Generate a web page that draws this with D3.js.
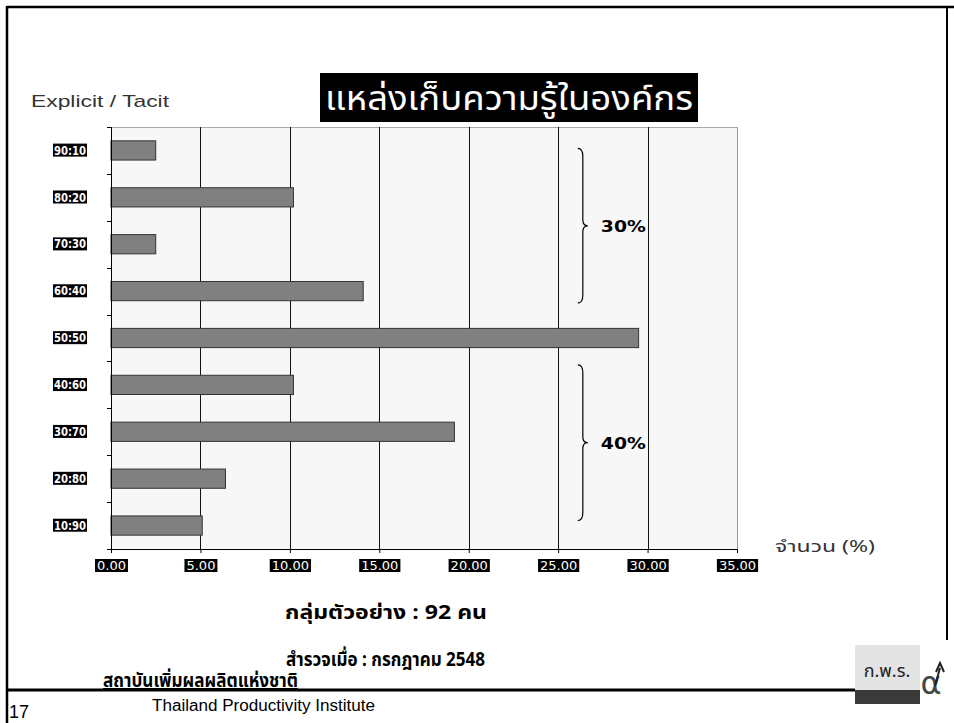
<!DOCTYPE html>
<html>
<head>
<meta charset="utf-8">
<script src="https://cdn.jsdelivr.net/npm/d3@7/dist/d3.min.js"></script>
<style>
  html, body { margin: 0; padding: 0; background: #fff; }
  svg { display: block; }
  .ylab text { font: bold 13px "DejaVu Sans", Verdana, sans-serif; fill: #fff; }
  .xlab text { font: 13px "DejaVu Sans", Verdana, sans-serif; fill: #fff; }
  .thai { font-family: Tahoma, "Noto Sans Thai", "DejaVu Sans", "Liberation Sans", sans-serif; }
</style>
</head>
<body>
<svg id="chart" width="954" height="723"></svg>
<script>
// ratio Explicit:Tacit, top to bottom
const categories = ['90:10', '80:20', '70:30', '60:40', '50:50', '40:60', '30:70', '20:80', '10:90'];
// percent of respondents (n = 92)
const values = [2.5, 10.2, 2.5, 14.1, 29.5, 10.2, 19.2, 6.4, 5.1];
const xTicks = [0, 5, 10, 15, 20, 25, 30, 35];
// bracket groups
const groups = [
  { label: '30%', from: '90:10', to: '60:40' },
  { label: '40%', from: '40:60', to: '10:90' }
];

const titleText = 'แหล่งเก็บความรู้ในองค์กร';
const yTitle = 'Explicit / Tacit';
const xTitle = 'จำนวน (%)';
const noteSample = 'กลุ่มตัวอย่าง : 92 คน';
const noteDate = 'สำรวจเมื่อ : กรกฎาคม 2548';

const svg = d3.select('#chart');
const plot = { left: 111, right: 737, top: 127, bottom: 549 };

const x = d3.scaleLinear().domain([0, 35]).range([plot.left, plot.right]);
const y = d3.scaleBand().domain(categories).range([plot.top, plot.bottom])
  .paddingInner(0.59).paddingOuter(0.295);

// slide frame
svg.append('line').attr('x1', 7).attr('x2', 954).attr('y1', 7).attr('y2', 7)
  .attr('stroke', '#000').attr('stroke-width', 2.5);
svg.append('line').attr('x1', 7).attr('x2', 7).attr('y1', 6).attr('y2', 723)
  .attr('stroke', '#000').attr('stroke-width', 2.5);
svg.append('line').attr('x1', 947).attr('x2', 947).attr('y1', 6).attr('y2', 640)
  .attr('stroke', '#000').attr('stroke-width', 2);
svg.append('line').attr('x1', 7).attr('x2', 856).attr('y1', 690).attr('y2', 690)
  .attr('stroke', '#000').attr('stroke-width', 3);

// plot background and frame
svg.append('rect')
  .attr('x', plot.left).attr('y', plot.top)
  .attr('width', plot.right - plot.left).attr('height', plot.bottom - plot.top)
  .attr('fill', '#f7f7f7');
svg.append('line').attr('x1', plot.left).attr('x2', plot.right)
  .attr('y1', plot.top + 0.5).attr('y2', plot.top + 0.5).attr('stroke', '#aaa');

// vertical grid
svg.append('g').selectAll('line').data(xTicks.slice(1))
  .join('line')
  .attr('x1', d => Math.round(x(d)) + 0.5).attr('x2', d => Math.round(x(d)) + 0.5)
  .attr('y1', plot.top).attr('y2', plot.bottom)
  .attr('stroke', d => d === 35 ? '#999' : '#111').attr('stroke-width', 1);

// bars
svg.append('g').selectAll('rect').data(values)
  .join('rect')
  .attr('x', x(0))
  .attr('y', (d, i) => y(categories[i]))
  .attr('width', d => x(d) - x(0))
  .attr('height', y.bandwidth())
  .attr('fill', '#808080')
  .attr('stroke', '#333').attr('stroke-width', 1);

// x axis
const xAxis = d3.axisBottom(x).tickValues(xTicks).tickSize(4).tickFormat(d3.format('.2f'));
const xg = svg.append('g').attr('class', 'xlab')
  .attr('transform', `translate(0,${plot.bottom})`).call(xAxis);
xg.select('.domain').attr('d', `M${plot.left - 4},0.5H${plot.right}`).attr('stroke', '#000');
xg.selectAll('.tick line').attr('stroke', '#000');
xg.selectAll('.tick text').attr('dy', null).attr('y', 21);

// y axis: line + ticks at category boundaries
const bounds = d3.range(categories.length + 1).map(i => plot.top + i * (plot.bottom - plot.top) / categories.length);
svg.append('line').attr('x1', plot.left + 0.5).attr('x2', plot.left + 0.5)
  .attr('y1', plot.top).attr('y2', plot.bottom).attr('stroke', '#000');
svg.append('g').selectAll('line').data(bounds)
  .join('line')
  .attr('x1', plot.left - 4).attr('x2', plot.left)
  .attr('y1', d => Math.round(d) + 0.5).attr('y2', d => Math.round(d) + 0.5)
  .attr('stroke', '#000');

const yAxis = d3.axisLeft(y).tickSize(0).tickPadding(25);
const yg = svg.append('g').attr('class', 'ylab')
  .attr('transform', `translate(${plot.left},0)`).call(yAxis);
yg.select('.domain').remove();
yg.selectAll('.tick text')
  .attr('textLength', 32).attr('lengthAdjust', 'spacingAndGlyphs');

// black boxes behind tick labels
function boxLabels(g, padX, padY) {
  g.selectAll('.tick').each(function() {
    const t = d3.select(this).select('text');
    const b = t.node().getBBox();
    d3.select(this).insert('rect', 'text')
      .attr('x', b.x - padX).attr('y', b.y - padY)
      .attr('width', b.width + padX * 2).attr('height', b.height + padY * 2)
      .attr('fill', '#000');
  });
}
boxLabels(yg, 1, -1);
boxLabels(xg, 2, -1);

// brackets
const bx = x(26.1);
const half = y.bandwidth() / 2;
const braceInset = [[-2, 12], [-20, -5]];
function brace(x0, y0, y1, w) {
  const m = (y0 + y1) / 2;
  const q = w / 2;
  return `M${x0},${y0} Q${x0 + q},${y0} ${x0 + q},${y0 + 8}` +
    ` L${x0 + q},${m - 6} Q${x0 + q},${m} ${x0 + w},${m}` +
    ` Q${x0 + q},${m} ${x0 + q},${m + 6}` +
    ` L${x0 + q},${y1 - 8} Q${x0 + q},${y1} ${x0},${y1}`;
}
groups.forEach((gr, i) => {
  const y0 = y(gr.from) + half + braceInset[i][0];
  const y1 = y(gr.to) + half + braceInset[i][1];
  svg.append('path').attr('d', brace(bx, y0, y1, 10))
    .attr('fill', 'none').attr('stroke', '#000').attr('stroke-width', 1.2);
  svg.append('text').attr('x', bx + 23).attr('y', (y0 + y1) / 2 + 6)
    .style('font', 'bold 15px "DejaVu Sans", Verdana, sans-serif')
    .attr('textLength', 45).attr('lengthAdjust', 'spacingAndGlyphs')
    .text(gr.label);
});

// titles
svg.append('rect').attr('x', 320).attr('y', 73).attr('width', 378).attr('height', 49).attr('fill', '#000');
svg.append('text').attr('class', 'thai').attr('x', 325).attr('y', 110)
  .attr('fill', '#fff')
  .style('font-size', '34px')
  .attr('textLength', 368).attr('lengthAdjust', 'spacingAndGlyphs')
  .text(titleText);

svg.append('text').attr('x', 31).attr('y', 107)
  .style('font', '17px "Liberation Sans", Arial, sans-serif').attr('fill', '#333')
  .attr('textLength', 138).attr('lengthAdjust', 'spacingAndGlyphs')
  .text(yTitle);

svg.append('text').attr('class', 'thai').attr('x', 775).attr('y', 552)
  .style('font-size', '16px').attr('fill', '#333')
  .attr('textLength', 100).attr('lengthAdjust', 'spacingAndGlyphs')
  .text(xTitle);

svg.append('text').attr('class', 'thai').attr('x', 285).attr('y', 619)
  .style('font-size', '20px').style('font-weight', 'bold')
  .attr('textLength', 202).attr('lengthAdjust', 'spacingAndGlyphs')
  .text(noteSample);
svg.append('text').attr('class', 'thai').attr('x', 286).attr('y', 666)
  .style('font-size', '19px').style('font-weight', 'bold')
  .attr('textLength', 199).attr('lengthAdjust', 'spacingAndGlyphs')
  .text(noteDate);

// footer
svg.append('text').attr('class', 'thai').attr('x', 103).attr('y', 687)
  .style('font-size', '19px').style('font-weight', 'bold')
  .attr('text-decoration', 'underline')
  .attr('textLength', 195).attr('lengthAdjust', 'spacingAndGlyphs')
  .text('สถาบันเพิ่มผลผลิตแห่งชาติ');
svg.append('text').attr('x', 152).attr('y', 711)
  .style('font', '16px "Liberation Sans", Arial, sans-serif')
  .attr('textLength', 223).attr('lengthAdjust', 'spacingAndGlyphs')
  .text('Thailand Productivity Institute');
svg.append('text').attr('x', 9).attr('y', 718)
  .style('font', '18px "Liberation Sans", Arial, sans-serif')
  .text('17');

// logos (rough)
svg.append('rect').attr('x', 855).attr('y', 645).attr('width', 65).attr('height', 45).attr('fill', '#e4e4e4');
svg.append('rect').attr('x', 855).attr('y', 690).attr('width', 65).attr('height', 14).attr('fill', '#3a3a3a');
svg.append('text').attr('class', 'thai').attr('x', 887).attr('y', 677)
  .attr('text-anchor', 'middle').style('font-size', '18px').attr('fill', '#222')
  .text('ก.พ.ร.');
svg.append('text').attr('x', 931).attr('y', 694)
  .attr('text-anchor', 'middle').style('font', '32px "DejaVu Sans", sans-serif').attr('fill', '#444')
  .text('α');
svg.append('path').attr('d', 'M935,686 L940,668 M936,672 L940,663 L944,672')
  .attr('fill', 'none').attr('stroke', '#222').attr('stroke-width', 2);
</script>
</body>
</html>
